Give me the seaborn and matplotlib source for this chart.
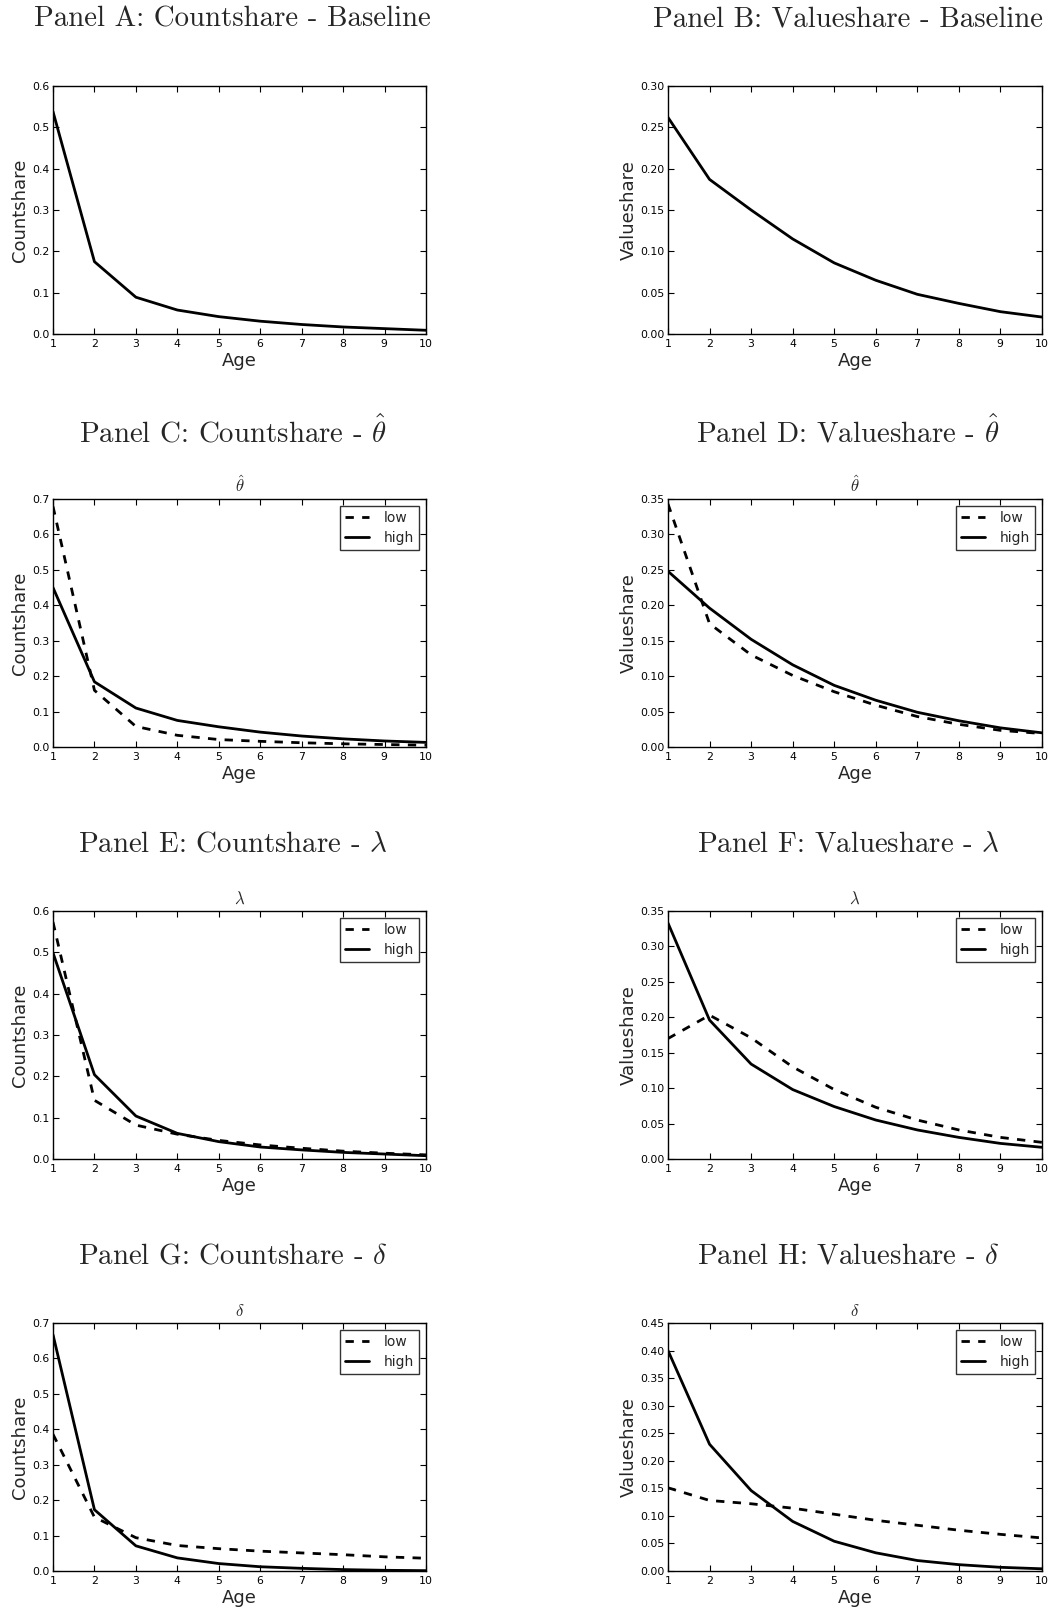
import numpy as np
import pandas as pd
import matplotlib
matplotlib.use("Agg")
import matplotlib.pyplot as plt
import seaborn as sns

age = [1, 2, 3, 4, 5, 6, 7, 8, 9, 10]

count_base = [0.538, 0.175, 0.089, 0.058, 0.042, 0.031, 0.023, 0.017, 0.013, 0.009]
value_base = [0.262, 0.187, 0.150, 0.115, 0.086, 0.065, 0.048, 0.037, 0.027, 0.0205]

count_theta_low = [0.679, 0.160, 0.058, 0.033, 0.021, 0.016, 0.012, 0.009, 0.007, 0.005]
count_theta_high = [0.450, 0.184, 0.110, 0.075, 0.057, 0.042, 0.031, 0.023, 0.017, 0.013]
value_theta_low = [0.343, 0.174, 0.130, 0.101, 0.078, 0.059, 0.043, 0.032, 0.0235, 0.019]
value_theta_high = [0.248, 0.196, 0.152, 0.116, 0.087, 0.066, 0.049, 0.037, 0.027, 0.020]

count_lambda_low = [0.573, 0.142, 0.082, 0.060, 0.045, 0.034, 0.026, 0.019, 0.014, 0.010]
count_lambda_high = [0.499, 0.204, 0.104, 0.062, 0.042, 0.029, 0.022, 0.016, 0.012, 0.008]
value_lambda_low = [0.170, 0.203, 0.171, 0.130, 0.098, 0.073, 0.055, 0.041, 0.0305, 0.0235]
value_lambda_high = [0.333, 0.196, 0.134, 0.098, 0.074, 0.055, 0.041, 0.0305, 0.022, 0.0165]

count_delta_low = [0.386, 0.152, 0.094, 0.072, 0.063, 0.056, 0.051, 0.046, 0.040, 0.036]
count_delta_high = [0.667, 0.173, 0.071, 0.037, 0.021, 0.012, 0.0075, 0.004, 0.002, 0.001]
value_delta_low = [0.151, 0.128, 0.122, 0.114, 0.103, 0.092, 0.083, 0.074, 0.0665, 0.060]
value_delta_high = [0.400, 0.230, 0.146, 0.090, 0.054, 0.033, 0.019, 0.0115, 0.0067, 0.004]

panel_titles = [
    "Panel A: Countshare - Baseline", "Panel B: Valueshare - Baseline",
    r"Panel C: Countshare - $\hat{\theta}$", r"Panel D: Valueshare - $\hat{\theta}$",
    r"Panel E: Countshare - $\lambda$", r"Panel F: Valueshare - $\lambda$",
    r"Panel G: Countshare - $\delta$", r"Panel H: Valueshare - $\delta$",
]
inner_titles = [None, None, r"$\hat{\theta}$", r"$\hat{\theta}$",
                r"$\lambda$", r"$\lambda$", r"$\delta$", r"$\delta$"]
ylabels = ["Countshare", "Valueshare"] * 4
ytop = [0.6, 0.30, 0.7, 0.35, 0.6, 0.35, 0.7, 0.45]
ystep = [0.1, 0.05, 0.1, 0.05, 0.1, 0.05, 0.1, 0.05]
yfmt = ["%.1f", "%.2f"] * 4

series = [
    (None, count_base), (None, value_base),
    (count_theta_low, count_theta_high), (value_theta_low, value_theta_high),
    (count_lambda_low, count_lambda_high), (value_lambda_low, value_lambda_high),
    (count_delta_low, count_delta_high), (value_delta_low, value_delta_high),
]

sns.set_style("ticks")
plt.rcParams["font.family"] = ["DejaVu Sans"]
plt.rcParams["mathtext.fontset"] = "cm"
plt.rcParams["axes.formatter.use_mathtext"] = True

W, H = 1054, 1612
fig = plt.figure(figsize=(W / 100, H / 100), dpi=100)

col_left = [53, 668]
col_w = [373, 374]
row_top = [86, 499, 911, 1323]
ax_h = 248

for i in range(8):
    r, c = divmod(i, 2)
    x0 = col_left[c]
    y0 = row_top[r]
    ax = fig.add_axes([x0 / W, 1 - (y0 + ax_h) / H, col_w[c] / W, ax_h / H])
    low, high = series[i]
    if low is None:
        df = pd.DataFrame({"Age": age, "v": high})
        sns.lineplot(data=df, x="Age", y="v", ax=ax, color="black", lw=2)
    else:
        df = pd.DataFrame({"Age": age * 2, "v": low + high,
                           "grp": ["low"] * 10 + ["high"] * 10})
        sns.lineplot(data=df[df.grp == "low"], x="Age", y="v", ax=ax, color="black",
                     lw=2, linestyle=(0, (3, 3)), label="low")
        sns.lineplot(data=df[df.grp == "high"], x="Age", y="v", ax=ax, color="black",
                     lw=2, label="high")
        leg = ax.legend(loc="upper right", fontsize=10, frameon=True, fancybox=False,
                        borderaxespad=0.5, handlelength=1.7, handletextpad=1.1,
                        borderpad=0.35, labelspacing=0.45)
        leg.get_frame().set_edgecolor("black")
        leg.get_frame().set_linewidth(1.0)
        ax.set_title(inner_titles[i], fontsize=12, pad=5)
    ax.set_xlim(1, 10)
    ax.set_ylim(0, ytop[i])
    ax.set_xticks(age)
    ax.set_yticks(np.arange(0, ytop[i] + 1e-9, ystep[i]))
    ax.yaxis.set_major_formatter(matplotlib.ticker.FormatStrFormatter(yfmt[i]))
    ax.tick_params(direction="in", top=True, right=True, length=4, width=0.8,
                   labelsize=7.8, pad=2.5, colors="black")
    for s in ax.spines.values():
        s.set_visible(True)
        s.set_color("black")
        s.set_linewidth(1.0)
    ax.set_xlabel("Age", fontsize=13, labelpad=2)
    ax.set_ylabel(ylabels[i], fontsize=13, labelpad=2)
    cx = x0 + col_w[c] / 2 - 7
    fig.text(cx / W, 1 - (y0 - 67) / H, panel_titles[i], ha="center", va="center",
             fontsize=20.8, fontfamily="cmr10")

fig.savefig("out.png", dpi=100)
